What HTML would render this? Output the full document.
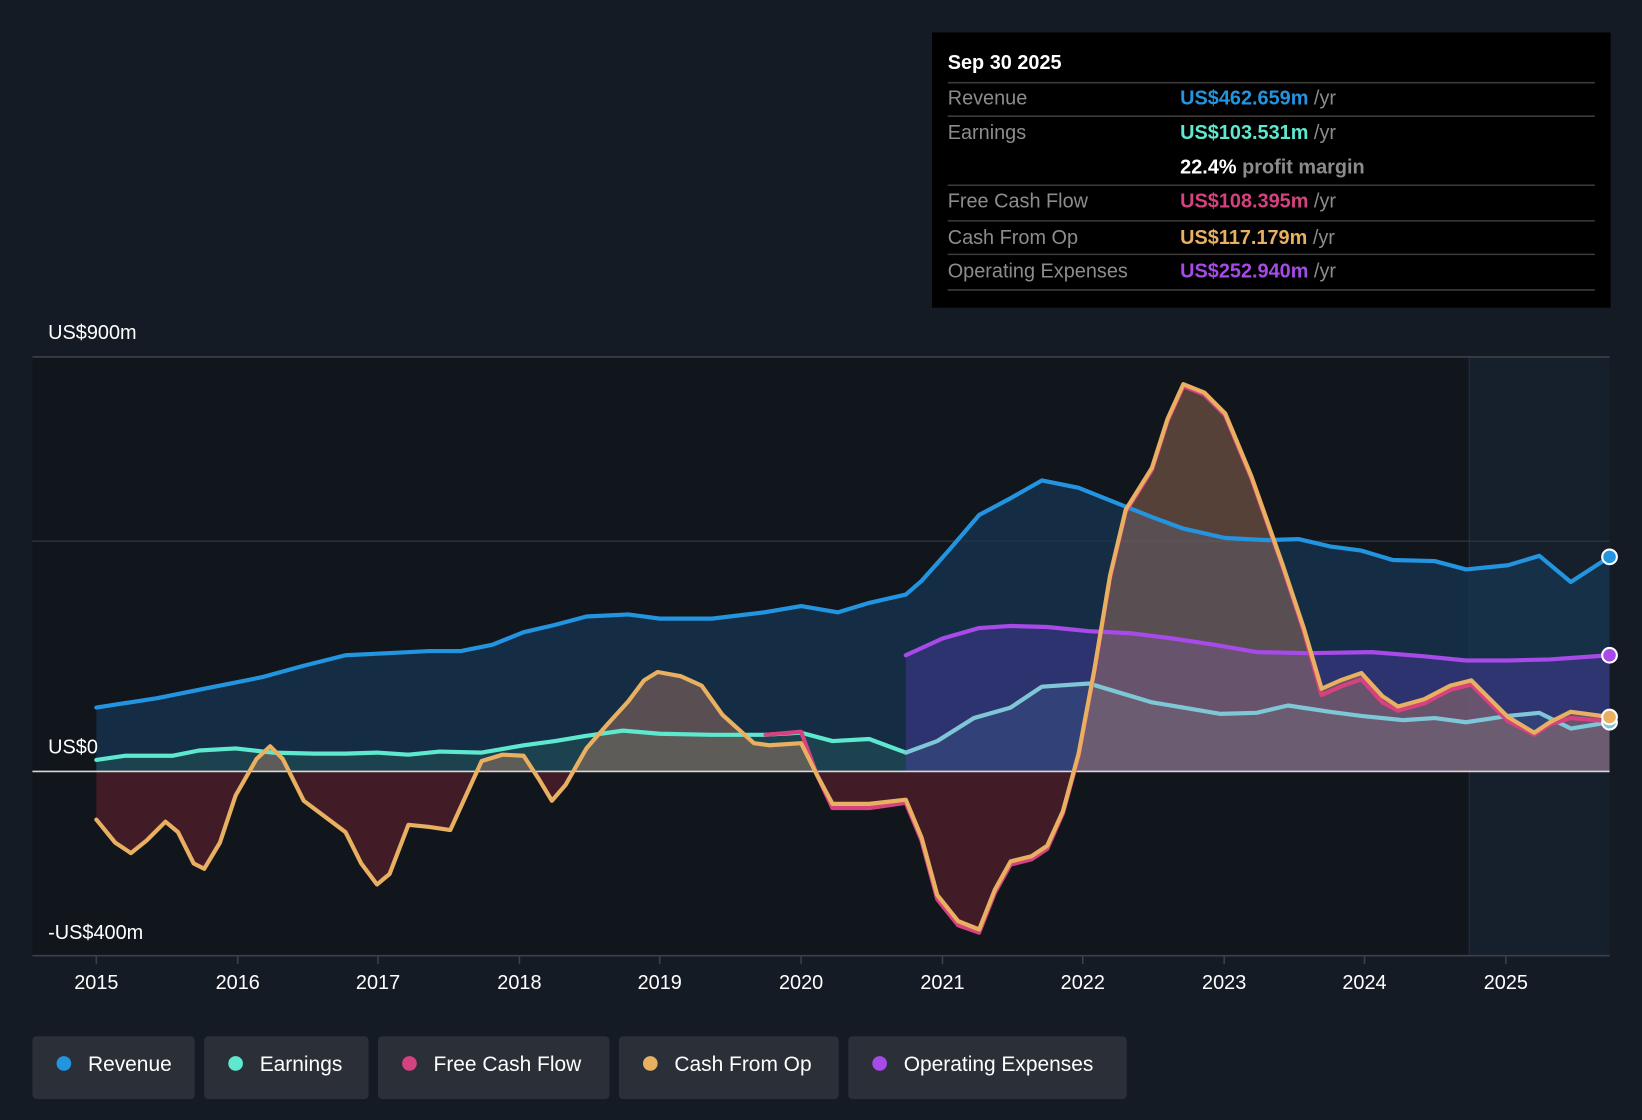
<!DOCTYPE html>
<html><head><meta charset="utf-8"><style>
html,body{margin:0;padding:0;background:#151b24;}
svg{display:block;font-family:"Liberation Sans",sans-serif;}
</style></head><body>
<svg width="1642" height="1120" viewBox="0 0 1568 1070" preserveAspectRatio="none" xmlns="http://www.w3.org/2000/svg">
<defs>
<clipPath id="above"><rect x="0" y="0" width="1568" height="737"/></clipPath>
<clipPath id="below"><rect x="0" y="737" width="1568" height="400"/></clipPath>
</defs>
<rect width="1568" height="1070" fill="#151b24"/>
<rect x="31" y="341" width="1372" height="572" fill="#11151c"/>
<rect x="1403" y="341" width="134" height="572" fill="#15202c"/>
<line x1="1403" y1="341" x2="1403" y2="913" stroke="#26303c" stroke-width="1"/>
<line x1="31" y1="341" x2="1537" y2="341" stroke="#3a414b" stroke-width="1.5"/>
<line x1="31" y1="517" x2="1537" y2="517" stroke="#2a3039" stroke-width="1.5"/>

<!-- revenue fill -->
<polygon fill="#173552" fill-opacity="0.75" points="92,737 92,676 150,667 200,657 250,647 290,636 330,626 370,624 410,622 440,622 470,616 500,604 530,597 560,589 600,587 630,591 680,591 730,585 765,579 800,585 830,576 865,568 880,555 905,527 935,492 965,476 995,459 1030,466 1070,482 1100,494 1130,505 1170,514 1210,516 1240,515 1270,522 1300,526 1330,535 1370,536 1400,544 1440,540 1470,531 1500,556 1537,532 1537,737"/>
<!-- earnings fill -->
<polygon fill="#2a6b66" fill-opacity="0.35" points="92,737 92,726 120,722 165,722 190,717 225,715 260,719 300,720 330,720 360,719 390,721 420,718 460,719 500,712 530,708 560,703 595,698 630,701 680,702 730,702 765,700 795,708 830,706 865,719 895,708 930,686 965,676 995,656 1040,653 1070,662 1100,671 1130,676 1165,682 1200,681 1230,674 1270,680 1300,684 1340,688 1370,686 1400,690 1440,684 1470,681 1500,696 1537,690 1537,737"/>
<!-- opex fill -->
<polygon fill="#5b3fbf" fill-opacity="0.35" points="865,737 865,626 900,610 935,600 965,598 1000,599 1040,603 1080,605 1120,610 1160,616 1200,623 1250,624 1310,623 1360,627 1400,631 1440,631 1480,630 1537,626 1537,737"/>

<!-- cash fill -->
<g id="cashfill">
<polygon clip-path="url(#above)" fill="#c98a6a" fill-opacity="0.38" points="92,737 92,783 110,805 125,815 140,803 158,785 170,795 185,825 195,830 210,805 225,760 245,725 258,713 270,725 290,765 310,780 330,795 345,825 360,845 372,835 390,788 410,790 430,793 445,760 460,727 480,721 500,722 515,745 527,765 540,750 560,715 580,692 600,670 615,650 628,642 650,646 670,655 690,683 720,710 735,712 765,710 780,740 795,768 830,768 865,764 880,800 895,855 915,880 935,888 950,850 965,823 985,818 1000,808 1015,775 1030,720 1045,640 1060,550 1075,487 1100,447 1115,400 1130,367 1150,375 1170,395 1195,455 1225,540 1245,600 1262,658 1280,650 1300,643 1320,665 1335,675 1360,668 1385,655 1405,650 1420,665 1440,685 1465,700 1480,690 1500,680 1537,685 1537,737"/>
<polygon clip-path="url(#below)" fill="#6a2230" fill-opacity="0.55" points="92,737 92,783 110,805 125,815 140,803 158,785 170,795 185,825 195,830 210,805 225,760 245,725 258,713 270,725 290,765 310,780 330,795 345,825 360,845 372,835 390,788 410,790 430,793 445,760 460,727 480,721 500,722 515,745 527,765 540,750 560,715 580,692 600,670 615,650 628,642 650,646 670,655 690,683 720,710 735,712 765,710 780,740 795,770 830,770 865,766 880,802 895,858 915,883 935,890 950,852 965,825 985,820 1000,810 1015,775 1030,720 1045,640 1060,550 1075,487 1100,447 1115,400 1130,367 1150,375 1170,395 1195,455 1225,540 1245,600 1262,658 1537,685 1537,737"/>
</g>

<line x1="31" y1="737" x2="1537" y2="737" stroke="#d8d8d8" stroke-width="1.5"/>
<line x1="31" y1="913" x2="1537" y2="913" stroke="#3a414b" stroke-width="1.5"/>

<g fill="none" stroke-linejoin="round" stroke-linecap="round" stroke-width="4">
<polyline stroke="#2394df" points="92,676 150,667 200,657 250,647 290,636 330,626 370,624 410,622 440,622 470,616 500,604 530,597 560,589 600,587 630,591 680,591 730,585 765,579 800,585 830,576 865,568 880,555 905,527 935,492 965,476 995,459 1030,466 1070,482 1100,494 1130,505 1170,514 1210,516 1240,515 1270,522 1300,526 1330,535 1370,536 1400,544 1440,540 1470,531 1500,556 1537,532"/>
<polyline stroke="#5ee8cf" points="92,726 120,722 165,722 190,717 225,715 260,719 300,720 330,720 360,719 390,721 420,718 460,719 500,712 530,708 560,703 595,698 630,701 680,702 730,702 765,700 795,708 830,706 865,719"/>
<polyline stroke="#7fc6d6" points="865,719 895,708 930,686 965,676 995,656 1040,653 1070,662 1100,671 1130,676 1165,682 1200,681 1230,674 1270,680 1300,684 1340,688 1370,686 1400,690 1440,684 1470,681 1500,696 1537,690"/>
<polyline stroke="#a64ae8" points="865,626 900,610 935,600 965,598 1000,599 1040,603 1080,605 1120,610 1160,616 1200,623 1250,624 1310,623 1360,627 1400,631 1440,631 1480,630 1537,626"/>
<polyline stroke="#d6417f" points="731,702 765,699 780,740 795,772 830,772 865,767 880,803 895,859 915,884 935,891 950,853 965,826 985,821 1000,811 1015,777 1030,722 1045,642 1060,552 1075,489 1100,449 1115,402 1130,369 1150,377 1170,397 1195,457 1225,542 1245,603 1262,664 1280,656 1300,649 1320,671 1335,679 1360,672 1385,659 1405,654 1420,669 1440,689 1465,702 1480,692 1500,686 1537,689"/>
<polyline stroke="#e8b060" points="92,783 110,805 125,815 140,803 158,785 170,795 185,825 195,830 210,805 225,760 245,725 258,713 270,725 290,765 310,780 330,795 345,825 360,845 372,835 390,788 410,790 430,793 445,760 460,727 480,721 500,722 515,745 527,765 540,750 560,715 580,692 600,670 615,650 628,642 650,646 670,655 690,683 720,710 735,712 765,710 780,740 795,768 830,768 865,764 880,800 895,855 915,880 935,888 950,850 965,823 985,818 1000,808 1015,775 1030,720 1045,640 1060,550 1075,487 1100,447 1115,400 1130,367 1150,375 1170,395 1195,455 1225,540 1245,600 1262,658 1280,650 1300,643 1320,665 1335,675 1360,668 1385,655 1405,650 1420,665 1440,685 1465,700 1480,690 1500,680 1537,685"/>
</g>
<g stroke="#fff" stroke-width="2">
<circle cx="1537" cy="532" r="7" fill="#2394df"/>
<circle cx="1537" cy="626" r="7" fill="#a64ae8"/>
<circle cx="1537" cy="690" r="7" fill="#7fc6d6"/>
<circle cx="1537" cy="685" r="7" fill="#e8b060"/>
</g>

<g fill="#ffffff" font-size="19">
<text x="46" y="324">US$900m</text>
<text x="46" y="720">US$0</text>
<text x="46" y="897">-US$400m</text>
</g>
<g stroke="#3a414b" stroke-width="1.5">
<line x1="92" y1="913" x2="92" y2="921"/><line x1="227" y1="913" x2="227" y2="921"/><line x1="361" y1="913" x2="361" y2="921"/><line x1="496" y1="913" x2="496" y2="921"/><line x1="630" y1="913" x2="630" y2="921"/><line x1="765" y1="913" x2="765" y2="921"/><line x1="900" y1="913" x2="900" y2="921"/><line x1="1034" y1="913" x2="1034" y2="921"/><line x1="1169" y1="913" x2="1169" y2="921"/><line x1="1303" y1="913" x2="1303" y2="921"/><line x1="1438" y1="913" x2="1438" y2="921"/>
</g>
<g fill="#ffffff" font-size="19" text-anchor="middle">
<text x="92" y="945">2015</text><text x="227" y="945">2016</text><text x="361" y="945">2017</text><text x="496" y="945">2018</text><text x="630" y="945">2019</text><text x="765" y="945">2020</text><text x="900" y="945">2021</text><text x="1034" y="945">2022</text><text x="1169" y="945">2023</text><text x="1303" y="945">2024</text><text x="1438" y="945">2025</text>
</g>

<!-- tooltip -->
<rect x="890" y="31" width="648" height="263" fill="#000"/>
<g stroke="#3b3b3b" stroke-width="1.5">
<line x1="905" y1="79" x2="1523" y2="79"/><line x1="905" y1="111" x2="1523" y2="111"/><line x1="905" y1="177" x2="1523" y2="177"/><line x1="905" y1="211" x2="1523" y2="211"/><line x1="905" y1="243" x2="1523" y2="243"/><line x1="905" y1="277" x2="1523" y2="277"/>
</g>
<g font-size="19">
<text x="905" y="66" fill="#fff" font-weight="bold">Sep 30 2025</text>
<text x="905" y="100" fill="#8c8c8c">Revenue</text>
<text x="905" y="133" fill="#8c8c8c">Earnings</text>
<text x="905" y="198" fill="#8c8c8c">Free Cash Flow</text>
<text x="905" y="233" fill="#8c8c8c">Cash From Op</text>
<text x="905" y="265" fill="#8c8c8c">Operating Expenses</text>
<text x="1127" y="100" fill="#2394df" font-weight="bold">US$462.659m <tspan fill="#8c8c8c" font-weight="normal">/yr</tspan></text>
<text x="1127" y="133" fill="#5ee8cf" font-weight="bold">US$103.531m <tspan fill="#8c8c8c" font-weight="normal">/yr</tspan></text>
<text x="1127" y="166" fill="#fff" font-weight="bold">22.4% <tspan fill="#8c8c8c">profit margin</tspan></text>
<text x="1127" y="198" fill="#d6417f" font-weight="bold">US$108.395m <tspan fill="#8c8c8c" font-weight="normal">/yr</tspan></text>
<text x="1127" y="233" fill="#e8b060" font-weight="bold">US$117.179m <tspan fill="#8c8c8c" font-weight="normal">/yr</tspan></text>
<text x="1127" y="265" fill="#a64ae8" font-weight="bold">US$252.940m <tspan fill="#8c8c8c" font-weight="normal">/yr</tspan></text>
</g>

<!-- legend -->
<g>
<rect x="31" y="990" width="155" height="60" rx="4" fill="#2a2f38"/>
<rect x="195" y="990" width="157" height="60" rx="4" fill="#2a2f38"/>
<rect x="361" y="990" width="221" height="60" rx="4" fill="#2a2f38"/>
<rect x="591" y="990" width="210" height="60" rx="4" fill="#2a2f38"/>
<rect x="810" y="990" width="266" height="60" rx="4" fill="#2a2f38"/>
<circle cx="61" cy="1016" r="7" fill="#2394df"/>
<circle cx="225" cy="1016" r="7" fill="#5ee8cf"/>
<circle cx="391" cy="1016" r="7" fill="#d6417f"/>
<circle cx="621" cy="1016" r="7" fill="#e8b060"/>
<circle cx="840" cy="1016" r="7" fill="#a64ae8"/>
<g fill="#ffffff" font-size="20">
<text x="84" y="1023">Revenue</text>
<text x="248" y="1023">Earnings</text>
<text x="414" y="1023">Free Cash Flow</text>
<text x="644" y="1023">Cash From Op</text>
<text x="863" y="1023">Operating Expenses</text>
</g>
</g>
</svg>
</body></html>
